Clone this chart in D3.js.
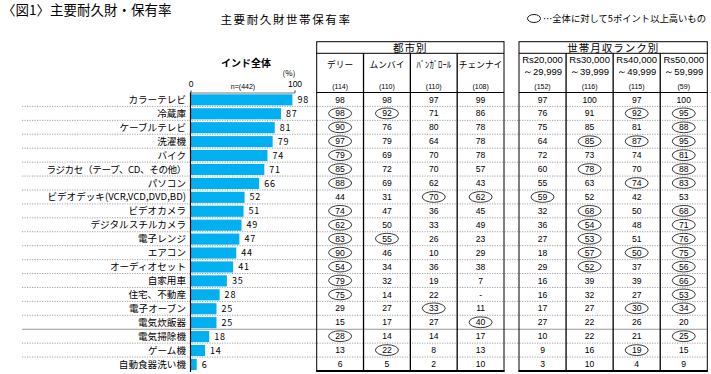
<!DOCTYPE html>
<html>
<head>
<meta charset="utf-8">
<script src="https://cdn.jsdelivr.net/npm/d3@7"></script>
<style>
    body { margin: 0; background: #fff; }
    text { font-family: "Noto Sans CJK JP", "DejaVu Sans", sans-serif; fill: #000; }
    .num { font-family: "Liberation Sans", Arial, sans-serif; }
</style>
</head>
<body>
<div id="chart"></div>
<script>
// 主要耐久財 世帯保有率 (%)
const items = ["カラーテレビ", "冷蔵庫", "ケーブルテレビ", "洗濯機", "バイク",
    "ラジカセ（テープ、CD、その他）", "パソコン", "ビデオデッキ(VCR,VCD,DVD,BD)", "ビデオカメラ",
    "デジタルスチルカメラ", "電子レンジ", "エアコン", "オーディオセット", "自家用車",
    "住宅、不動産", "電子オーブン", "電気炊飯器", "電気掃除機", "ゲーム機", "自動食器洗い機"];
const totalValues = [98, 87, 81, 79, 74, 71, 66, 52, 51, 49, 47, 44, 41, 35, 28, 25, 25, 18, 14, 6];

const cities = ["デリー", "ムンバイ", "ﾊﾞﾝｶﾞﾛｰﾙ", "チェンナイ"];
const cityN = ["(114)", "(110)", "(110)", "(108)"];
const delhi     = [98, 98, 90, 97, 79, 85, 88, 44, 74, 62, 83, 90, 54, 79, 75, 29, 15, 28, 13, 6];
const mumbai    = [98, 92, 76, 79, 69, 72, 69, 31, 47, 50, 55, 46, 34, 32, 14, 27, 17, 14, 22, 5];
const bangalore = [97, 71, 80, 64, 70, 70, 62, 70, 36, 33, 26, 10, 36, 19, 22, 33, 27, 14, 8, 2];
const chennai   = [99, 86, 78, 78, 78, 57, 43, 62, 45, 49, 23, 29, 38, 7, null, 11, 40, 17, 13, 10];

const incomeTop = ["Rs20,000", "Rs30,000", "Rs40,000", "Rs50,000"];
const incomeBottom = ["～29,999", "～39,999", "～49,999", "～59,999"];
const incomeN = ["(152)", "(116)", "(115)", "(59)"];
const inc20 = [97, 76, 75, 64, 72, 60, 55, 59, 32, 36, 27, 18, 29, 16, 16, 17, 27, 10, 9, 3];
const inc30 = [100, 91, 85, 85, 73, 78, 63, 52, 68, 54, 53, 57, 52, 39, 32, 27, 22, 22, 16, 10];
const inc40 = [97, 92, 81, 87, 74, 70, 74, 42, 50, 48, 51, 50, 37, 39, 27, 30, 26, 21, 19, 4];
const inc50 = [100, 95, 88, 95, 81, 88, 83, 53, 68, 71, 76, 75, 56, 66, 53, 34, 20, 25, 15, 9];

const cityData = [delhi, mumbai, bangalore, chennai];
const incomeData = [inc20, inc30, inc40, inc50];
const highlightGap = 5; // 全体に対して5ポイント以上高いもの

const width = 711, height = 374;
const svg = d3.select("#chart").append("svg")
    .attr("width", width)
    .attr("height", height);

const rowTop = 92.5, rowBottom = 371;
const y = d3.scaleBand().domain(items).range([rowTop, rowBottom]);
const x = d3.scaleLinear().domain([0, 100]).range([190.5, 294.5]);
const xCity = d3.scaleBand().domain(cities).range([316.7, 504]);
const xIncome = d3.scaleBand().domain(incomeTop).range([519, 707.3]);

// titles
svg.append("text").attr("x", 2).attr("y", 15)
    .style("font-size", "13.5px").text("〈図1〉主要耐久財・保有率");
svg.append("text").attr("x", 286).attr("y", 24).attr("text-anchor", "middle")
    .style("font-size", "11.5px").style("letter-spacing", "1.6px").text("主要耐久財世帯保有率");

// legend
svg.append("ellipse").attr("cx", 534).attr("cy", 18.5).attr("rx", 6.5).attr("ry", 4)
    .attr("fill", "none").attr("stroke", "#000").attr("stroke-width", 0.9);
svg.append("text").attr("x", 543).attr("y", 21.5)
    .style("font-size", "9.3px").text("…全体に対して5ポイント以上高いもの");

// row separators
items.forEach((d, i) => {
    if (i === 0) return;
    const yy = y(d);
    svg.append("line")
        .attr("x1", 22).attr("x2", 707)
        .attr("y1", yy).attr("y2", yy)
        .attr("stroke", i === 17 ? "#999" : "#8a8a8a")
        .attr("stroke-width", i === 17 ? 1.2 : 0.8)
        .attr("stroke-dasharray", i === 17 ? null : "1.2,1.3");
});

// India overall bar chart
svg.append("text").attr("x", 246).attr("y", 67).attr("text-anchor", "middle")
    .style("font-size", "10px").style("font-weight", "bold").text("インド全体");
svg.append("text").attr("x", 289).attr("y", 76).attr("text-anchor", "middle")
    .style("font-size", "8px").text("(%)");
svg.append("text").attr("x", 243).attr("y", 89).attr("text-anchor", "middle")
    .attr("class", "num").style("font-size", "7px").text("n=(442)");

const axis = svg.append("g")
    .attr("transform", `translate(0,${rowTop})`)
    .call(d3.axisTop(x).tickValues([0, 100]).tickSize(2).tickPadding(4).tickFormat(d3.format("d")));
axis.select(".domain").attr("stroke", "#777");
axis.selectAll(".tick line").attr("stroke", "#777");
axis.selectAll(".tick text").attr("class", "num").style("font-size", "8.5px").attr("fill", "#000");

svg.selectAll(".bar")
    .data(items)
    .enter().append("rect")
    .attr("class", "bar")
    .attr("x", x(0))
    .attr("y", d => y(d) + 1.8)
    .attr("width", (d, i) => x(totalValues[i]) - x(0))
    .attr("height", y.bandwidth() - 2.8)
    .attr("fill", "#00b0f0");

svg.selectAll(".bar-label")
    .data(items)
    .enter().append("text")
    .attr("class", "bar-label")
    .attr("x", (d, i) => x(totalValues[i]) + 5)
    .attr("y", d => y(d) + y.bandwidth() / 2 + 3.5)
    .style("font-size", "9px")
    .style("letter-spacing", "0.8px")
    .text((d, i) => totalValues[i]);

svg.selectAll(".cat-label")
    .data(items)
    .enter().append("text")
    .attr("class", "cat-label")
    .attr("x", 186)
    .attr("y", d => y(d) + y.bandwidth() / 2 + 3.5)
    .attr("text-anchor", "end")
    .style("font-size", "9.6px")
    .style("letter-spacing", d => d.startsWith("ラジカセ") ? "-0.4px" : null)
    .text(d => d);

svg.append("line")
    .attr("x1", x(0)).attr("x2", x(0))
    .attr("y1", rowTop).attr("y2", rowBottom + 1)
    .attr("stroke", "#000").attr("stroke-width", 1.2);

// tables
function drawTable(colScale, title, data, headerFn) {
    const x0 = colScale.range()[0], x1 = colScale.range()[1];
    const top = 41.7, headDiv = 53.3;
    const g = svg.append("g");

    g.append("text")
        .attr("x", (x0 + x1) / 2).attr("y", 51.5)
        .attr("text-anchor", "middle")
        .style("font-size", "10.5px").style("letter-spacing", "1px")
        .text(title);

    headerFn(g);

    g.append("rect")
        .attr("x", x0).attr("y", top)
        .attr("width", x1 - x0).attr("height", rowBottom - top)
        .attr("fill", "none").attr("stroke", "#000").attr("stroke-width", 1);
    g.append("line").attr("x1", x0).attr("x2", x1).attr("y1", headDiv).attr("y2", headDiv)
        .attr("stroke", "#000").attr("stroke-width", 1);
    g.append("line").attr("x1", x0).attr("x2", x1).attr("y1", rowTop).attr("y2", rowTop)
        .attr("stroke", "#000").attr("stroke-width", 1.2);
    g.append("line").attr("x1", x0 - 0.5).attr("x2", x1 + 0.5).attr("y1", rowBottom).attr("y2", rowBottom)
        .attr("stroke", "#000").attr("stroke-width", 2);

    colScale.domain().slice(1).forEach(c => {
        g.append("line")
            .attr("x1", colScale(c)).attr("x2", colScale(c))
            .attr("y1", headDiv).attr("y2", rowBottom)
            .attr("stroke", "#000").attr("stroke-width", 1.3);
    });

    colScale.domain().forEach((c, ci) => {
        const cx = colScale(c) + colScale.bandwidth() / 2;
        const vals = data[ci];
        const cell = g.selectAll(null)
            .data(items)
            .enter();
        cell.filter((d, i) => vals[i] !== null && vals[i] >= totalValues[i] + highlightGap)
            .append("ellipse")
            .attr("cx", cx)
            .attr("cy", d => y(d) + y.bandwidth() / 2)
            .attr("rx", 11.5).attr("ry", 5.4)
            .attr("fill", "none").attr("stroke", "#222").attr("stroke-width", 0.9);
        cell.append("text")
            .attr("class", "num")
            .attr("x", cx)
            .attr("y", d => y(d) + y.bandwidth() / 2 + 3.1)
            .attr("text-anchor", "middle")
            .style("font-size", "8.6px")
            .text((d, i) => vals[i] === null ? "-" : vals[i]);
    });
}

drawTable(xCity, "都市別", cityData, g => {
    cities.forEach((c, i) => {
        const cx = xCity(c) + xCity.bandwidth() / 2;
        g.append("text").attr("x", cx).attr("y", 68).attr("text-anchor", "middle")
            .style("font-size", "8.7px").text(c);
        g.append("text").attr("x", cx).attr("y", 89).attr("text-anchor", "middle")
            .attr("class", "num").style("font-size", "7px").text(cityN[i]);
    });
});

drawTable(xIncome, "世帯月収ランク別", incomeData, g => {
    incomeTop.forEach((c, i) => {
        const cx = xIncome(c) + xIncome.bandwidth() / 2;
        g.append("text").attr("x", cx).attr("y", 62.5).attr("text-anchor", "middle")
            .attr("class", "num").style("font-size", "9.5px").text(c);
        g.append("text").attr("x", cx).attr("y", 74.5).attr("text-anchor", "middle")
            .attr("class", "num").style("font-size", "9.5px").text(incomeBottom[i]);
        g.append("text").attr("x", cx).attr("y", 89).attr("text-anchor", "middle")
            .attr("class", "num").style("font-size", "7px").text(incomeN[i]);
    });
});
</script>
</body>
</html>
